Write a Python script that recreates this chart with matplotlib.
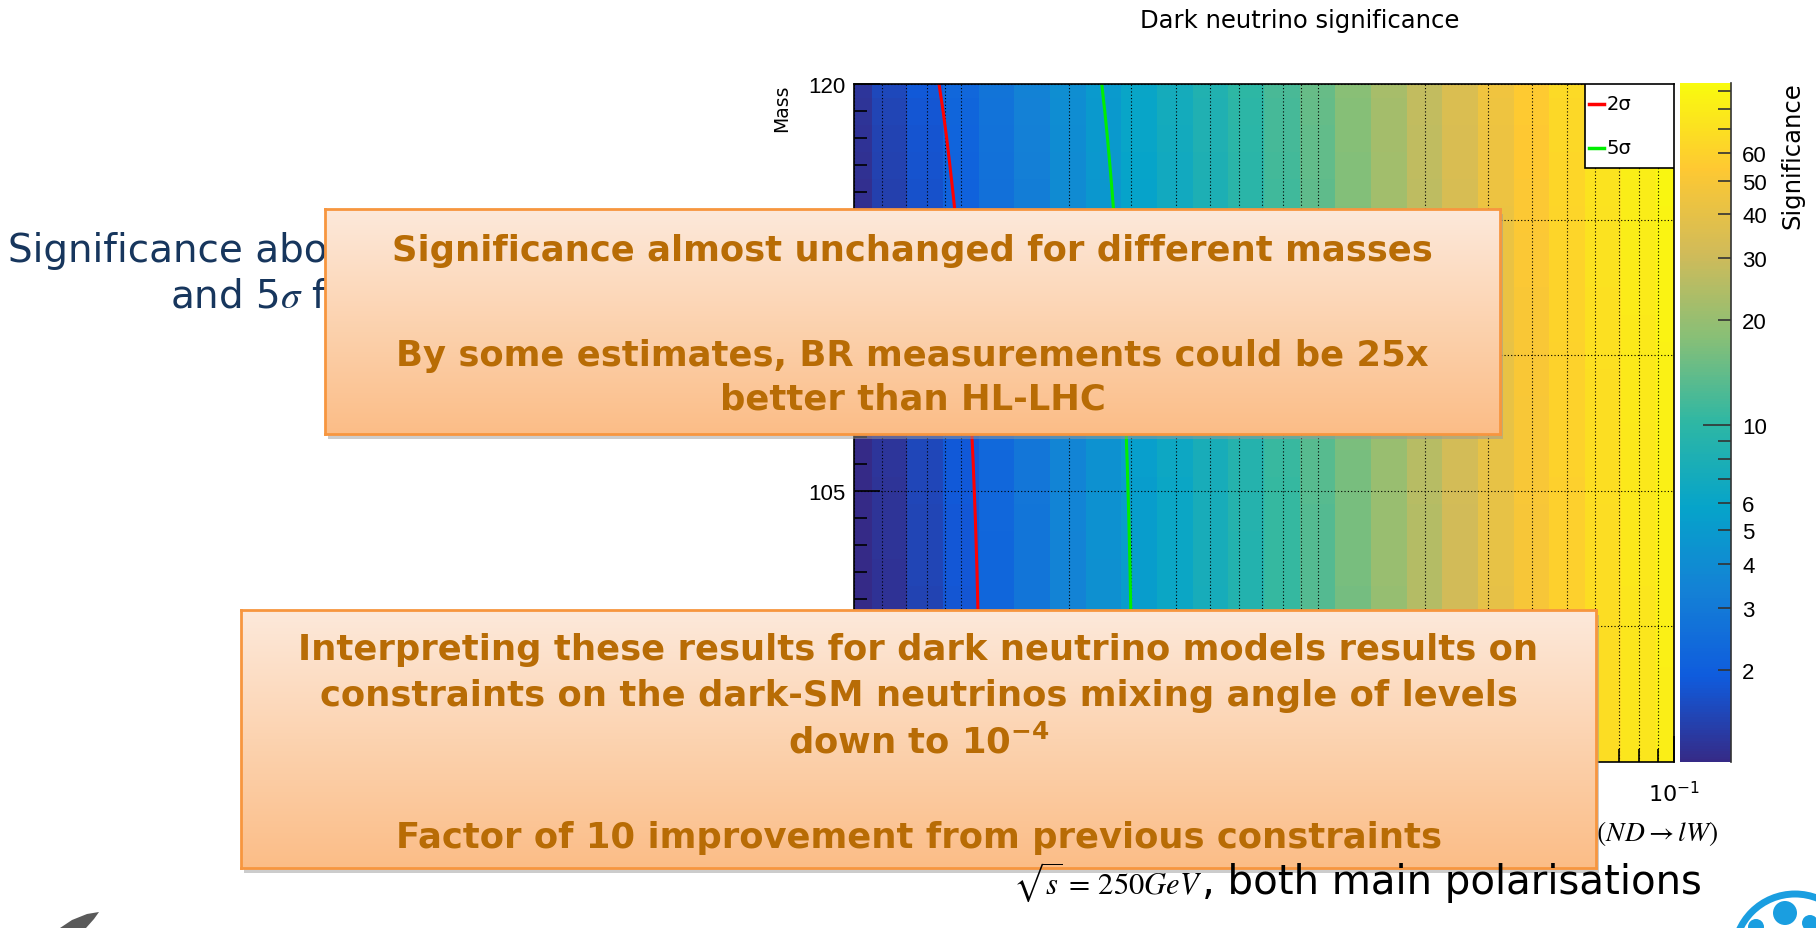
import numpy as np
import matplotlib
matplotlib.use("Agg")
import matplotlib.pyplot as plt
from matplotlib import ticker, font_manager
from matplotlib.colors import LinearSegmentedColormap, LogNorm
from matplotlib.patches import Rectangle, Polygon, Ellipse

W, H = 1816, 929

# significance along x (log nodes from 5e-4 to 1e-1), read at M = 120
signif_top = [1.25, 1.52, 1.85, 2.27, 2.78, 3.40, 4.15, 5.05, 6.1, 7.2, 8.5, 10.0,
              12.0, 14.5, 18.0, 22.5, 28.0, 35.0, 45.0, 55.0, 65.0, 75.0, 84.0, 92.0]
mass_sensitivity = [1.12, 1.12, 1.12, 1.10, 1.02, 0.92, 0.84, 0.77, 0.72, 0.68, 0.65,
                    0.62, 0.60, 0.58, 0.56, 0.55, 0.54, 0.53, 0.52, 0.51, 0.50, 0.50,
                    0.50, 0.50]
# relative significance per mass row (95 ... 120)
mass_nodes = [95, 96, 97, 98, 99, 100, 101, 102, 103, 104, 105, 106, 107,
              108, 109, 110, 111, 112, 113, 114, 115, 116, 117, 118, 119, 120]
mass_factor = [0.800, 0.801, 0.803, 0.805, 0.807, 0.809, 0.812, 0.815, 0.819,
               0.823, 0.828, 0.833, 0.839, 0.846, 0.853, 0.861, 0.870, 0.880,
               0.891, 0.903, 0.916, 0.930, 0.945, 0.961, 0.979, 1.000]
z_range = (1.09, 95.0)
levels = [2, 5]
level_names = ["2σ", "5σ"]
level_colors = ["#ff0000", "#00ee00"]
mass_labelled = [105, 120]
cbar_minor = [2, 3, 4, 5, 6, 7, 8, 9, 20, 30, 40, 50, 60, 70, 80, 90]
cbar_labelled = [2, 3, 4, 5, 6, 20, 30, 40, 50, 60]

# ROOT kBird palette
bird_stops = [0.0, 0.125, 0.25, 0.375, 0.5, 0.625, 0.75, 0.875, 1.0]
bird_r = [0.2082, 0.0592, 0.0780, 0.0232, 0.1802, 0.5301, 0.8186, 0.9956, 0.9764]
bird_g = [0.1664, 0.3599, 0.5041, 0.6419, 0.7178, 0.7492, 0.7328, 0.7862, 0.9832]
bird_b = [0.5293, 0.8684, 0.8385, 0.7914, 0.6425, 0.4662, 0.3499, 0.1968, 0.0539]
bird = LinearSegmentedColormap.from_list(
    "bird", list(zip(bird_stops, zip(bird_r, bird_g, bird_b))))

box_cmap = LinearSegmentedColormap.from_list("box", ["#fde9db", "#fcd3b0", "#fbbd87"])
BOX_EDGE = "#f7963f"
BOX_TEXT = "#b86c05"
NAVY = "#17365d"
LOGO_BLUE = "#1a9ee0"

avail = {f.name for f in font_manager.fontManager.ttflist}
if "Liberation Sans Narrow" in avail:
    ROOT_FONT, ROOT_SIZE = "Liberation Sans Narrow", 18
else:
    ROOT_FONT, ROOT_SIZE = "Liberation Sans", 16


def fx(p):
    return p / W


def fy(p):
    return 1 - p / H


plt.rcParams["font.family"] = ["DejaVu Sans"]
plt.rcParams["mathtext.fontset"] = "dejavusans"

fig = plt.figure(figsize=(W / 100, H / 100), dpi=100)

# ---- heatmap ----
ax = fig.add_axes([fx(854), fy(763), (1674 - 854) / W, (763 - 85) / H])
x_nodes = np.logspace(np.log10(5e-4), -1, len(signif_top))
lx = np.log10(x_nodes)
mid = (lx[1:] + lx[:-1]) / 2
x_edges = 10 ** np.concatenate([[2 * lx[0] - mid[0]], mid, [2 * lx[-1] - mid[-1]]])
m = np.array(mass_nodes, float)
m_edges = np.concatenate([[m[0] - 0.5], (m[1:] + m[:-1]) / 2, [m[-1] + 0.5]])
sig = np.array(signif_top)[None, :] * \
    np.array(mass_factor)[:, None] ** np.array(mass_sensitivity)[None, :]

norm = LogNorm(*z_range)
ax.pcolormesh(x_edges, m_edges, sig, cmap=bird, norm=norm, shading="flat")
for lev, col in zip(levels, level_colors):
    ax.contour(x_nodes, m, sig, levels=[lev], colors=[col], linewidths=2.2)

ax.set_xscale("log")
ax.set_xlim(5e-4, 1e-1)
ax.set_ylim(95, 120)
ax.xaxis.set_major_locator(ticker.LogLocator(base=10, subs=(1.0,), numticks=20))
ax.xaxis.set_minor_locator(ticker.LogLocator(base=10, subs=np.arange(2, 10), numticks=20))
ax.xaxis.set_major_formatter(ticker.FuncFormatter(
    lambda v, p: r"$10^{-1}$" if abs(v - 0.1) < 1e-9 else ""))
ax.xaxis.set_minor_formatter(ticker.NullFormatter())
ax.yaxis.set_major_locator(ticker.MultipleLocator(5))
ax.yaxis.set_minor_locator(ticker.MultipleLocator(1))
ax.yaxis.set_major_formatter(ticker.FuncFormatter(
    lambda v, p: f"{v:.0f}" if round(v) in mass_labelled else ""))
ax.tick_params(which="both", direction="in", top=False, right=False, width=1.2)
ax.tick_params(which="major", length=19, labelsize=ROOT_SIZE)
ax.tick_params(axis="y", which="major", pad=6)
ax.tick_params(axis="x", which="major", pad=14)
ax.tick_params(which="minor", length=9.5)
for lab in ax.get_xticklabels() + ax.get_yticklabels():
    lab.set_fontfamily(ROOT_FONT)
ax.grid(True, axis="x", which="both", ls=(0, (1, 2)), lw=0.8, color="black")
ax.grid(True, axis="y", which="major", ls=(0, (1, 2)), lw=0.8, color="black")
for s in ax.spines.values():
    s.set_linewidth(1.2)

fig.text(fx(1300), fy(21), "Dark neutrino significance", ha="center", va="center",
         fontsize=17.5)
fig.text(fx(782), fy(85), "Mass", rotation=90, ha="center", va="top", fontsize=13.5)

# legend
lg_x0, lg_x1, lg_y0, lg_y1 = 1585, 1674, 85, 169
ax.add_patch(Rectangle(((lg_x0 - 854) / 820, (763 - lg_y1) / 678),
                       (lg_x1 - lg_x0) / 820, (lg_y1 - lg_y0) / 678,
                       transform=ax.transAxes, facecolor="white",
                       edgecolor="black", lw=1.2, zorder=5))
for name, col, ypx in zip(level_names, level_colors, [105, 149]):
    yy = (763 - ypx) / 678
    ax.plot([(1589 - 854) / 820, (1604 - 854) / 820], [yy, yy], color=col,
            lw=2.5, transform=ax.transAxes, zorder=6)
    ax.text((1607 - 854) / 820, yy, name, transform=ax.transAxes, ha="left",
            va="center", fontsize=14, zorder=6)

# ---- colour bar ----
cax = fig.add_axes([fx(1680), fy(763), 51 / W, (763 - 84) / H])
z_edges = np.logspace(np.log10(z_range[0]), np.log10(z_range[1]), 257)
z_mid = np.sqrt(z_edges[1:] * z_edges[:-1])
cax.pcolormesh([0, 1], z_edges, z_mid[:, None], cmap=bird, norm=norm, shading="flat")
cax.set_yscale("log")
cax.set_ylim(*z_range)
cax.set_xlim(0, 1)
cax.set_xticks([])
for side in ["left", "top", "bottom"]:
    cax.spines[side].set_visible(False)
cax.spines["right"].set_color("#333333")
cax.spines["right"].set_linewidth(1.2)
cax.yaxis.set_ticks_position("right")
cax.yaxis.set_major_locator(ticker.FixedLocator([10]))
cax.yaxis.set_minor_locator(ticker.FixedLocator(cbar_minor))
cax.yaxis.set_major_formatter(ticker.FixedFormatter(["10"]))
cax.yaxis.set_minor_formatter(ticker.FuncFormatter(
    lambda v, p: f"{v:g}" if round(v) in cbar_labelled else ""))
cax.tick_params(which="both", direction="in", labelsize=16, pad=8, width=1.2,
                color="#333333")
cax.tick_params(which="major", length=20)
cax.tick_params(which="minor", length=9.5)
for lab in cax.get_yticklabels(which="both"):
    lab.set_fontfamily("Liberation Sans")
fig.text(fx(1792), fy(82), "Significance", rotation=90, ha="center", va="top",
         fontsize=17.5)

# ---- slide text around the boxes ----
fig.text(fx(8), fy(251), "Significance above", ha="left", va="center", fontsize=28,
         color=NAVY, zorder=3)
fig.text(fx(170), fy(296), "and 5$\\sigma$ for", ha="left", va="center", fontsize=28,
         color=NAVY, math_fontfamily="stix", zorder=3)
fig.text(fx(1718), fy(834), r"$BR(ND \rightarrow lW)$", ha="right",
         va="center", fontsize=19.8, math_fontfamily="stix", zorder=3)
fig.text(fx(1202), fy(894), r"$\sqrt{s}\,=\,250GeV$", ha="right", va="baseline",
         fontsize=22, math_fontfamily="stix", zorder=12)
fig.text(fx(1202), fy(894), ", both main polarisations", ha="left", va="baseline",
         fontsize=29, zorder=12)


def text_box(x0, y0, x1, y1, lines):
    fig.add_artist(Rectangle((fx(x0 + 3), fy(y1 + 5)), (x1 - x0) / W, (y1 - y0) / H,
                             transform=fig.transFigure, facecolor="#9a9a9a",
                             alpha=0.5, edgecolor="none", zorder=9))
    bax = fig.add_axes([fx(x0), fy(y1), (x1 - x0) / W, (y1 - y0) / H])
    bax.set_zorder(10)
    bax.imshow(np.linspace(0, 1, 256)[:, None], cmap=box_cmap, aspect="auto",
               extent=(0, 1, 0, 1), origin="upper")
    bax.set_xlim(0, 1)
    bax.set_ylim(0, 1)
    bax.set_xticks([])
    bax.set_yticks([])
    for s in bax.spines.values():
        s.set_edgecolor(BOX_EDGE)
        s.set_linewidth(2)
    for txt, ypx in lines:
        bax.text(0.5, (y1 - ypx) / (y1 - y0), txt, transform=bax.transAxes,
                 ha="center", va="center", fontsize=25.5, fontweight="bold",
                 color=BOX_TEXT)


text_box(325, 210, 1500, 435, [
    ("Significance almost unchanged for different masses", 251),
    ("By some estimates, BR measurements could be 25x", 356),
    ("better than HL-LHC", 400),
])
text_box(241, 611, 1596, 869, [
    ("Interpreting these results for dark neutrino models results on", 650),
    ("constraints on the dark-SM neutrinos mixing angle of levels", 696),
    (r"down to 10$^{\mathbf{-4}}$", 742),
    ("Factor of 10 improvement from previous constraints", 838),
])

# ---- logos at the slide corners ----
fig.add_artist(Polygon([(fx(60), fy(929)), (fx(72), fy(921)), (fx(87), fy(915)),
                        (fx(99), fy(913)), (fx(94), fy(920)), (fx(86), fy(929))],
                       closed=True, transform=fig.transFigure, facecolor="#5a5a5a",
                       edgecolor="none"))
fig.add_artist(Ellipse((fx(1795), fy(956)), 2 * 61 / W, 2 * 61 / H,
                       transform=fig.transFigure, facecolor="white",
                       edgecolor=LOGO_BLUE, lw=5))
for cxp, cyp, r in [(1785, 914, 12), (1756, 928, 8), (1810, 924, 8)]:
    fig.add_artist(Ellipse((fx(cxp), fy(cyp)), 2 * r / W, 2 * r / H,
                           transform=fig.transFigure, facecolor=LOGO_BLUE,
                           edgecolor="none"))

fig.savefig("out.png", dpi=100)
